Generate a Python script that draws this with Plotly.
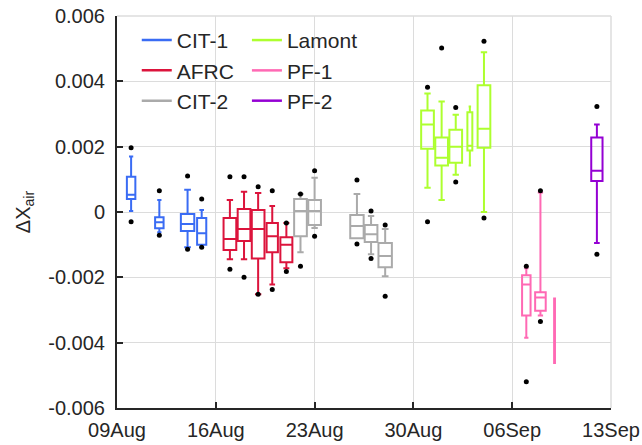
import plotly.graph_objects as go

# ---------------- data ----------------
cit1_dates = ["2019-08-10", "2019-08-12", "2019-08-14", "2019-08-15"]
cit1_q1 = [0.00040, -0.00050, -0.00058, -0.00100]
cit1_med = [0.00053, -0.00031, -0.00037, -0.00065]
cit1_q3 = [0.00108, -0.00016, -0.00006, -0.00018]
cit1_lo = [0.00003, -0.00062, -0.00108, -0.00108]
cit1_hi = [0.00170, 0.00037, 0.00068, 0.00006]
cit1_out_x = ["2019-08-10", "2019-08-10", "2019-08-12", "2019-08-12", "2019-08-14", "2019-08-14", "2019-08-15", "2019-08-15"]
cit1_out_y = [0.00197, -0.00030, 0.00065, -0.00071, 0.00110, -0.00114, 0.00040, -0.00108]
cit1_w = [0.6, 0.6, 0.95, 0.65]

afrc_dates = ["2019-08-17", "2019-08-18", "2019-08-19", "2019-08-20", "2019-08-21"]
afrc_q1 = [-0.00116, -0.00089, -0.00142, -0.00123, -0.00154]
afrc_med = [-0.00083, -0.00052, -0.00052, -0.00074, -0.00100]
afrc_q3 = [-0.00018, 0.00009, 0.00006, -0.00034, -0.00077]
afrc_lo = [-0.00145, -0.00145, -0.00252, -0.00222, -0.00172]
afrc_hi = [0.00037, 0.00062, 0.00058, 0.00018, -0.00034]
afrc_out_x = afrc_dates + afrc_dates
afrc_out_y = [0.00108, 0.00108, 0.00077, 0.00065, -0.00034,
              -0.00175, -0.00200, -0.00252, -0.00237, -0.00182]
afrc_w = [0.9, 0.9, 0.9, 0.8, 0.85]

cit2_dates = ["2019-08-22", "2019-08-23", "2019-08-26", "2019-08-27", "2019-08-28"]
cit2_q1 = [-0.00074, -0.00040, -0.00080, -0.00092, -0.00169]
cit2_med = [0.00003, 0.00003, -0.00043, -0.00068, -0.00135]
cit2_q3 = [0.00040, 0.00037, -0.00009, -0.00040, -0.00095]
cit2_lo = [-0.00123, -0.00049, -0.00080, -0.00129, -0.00197]
cit2_hi = [0.00055, 0.00105, 0.00055, -0.00012, -0.00052]
cit2_out_x = cit2_dates + cit2_dates
cit2_out_y = [0.00055, 0.00126, 0.00098, 0.00003, -0.00040,
              -0.00166, -0.00074, -0.00098, -0.00142, -0.00258]
cit2_w = [0.9, 0.9, 0.95, 0.9, 0.95]

lam_dates = ["2019-08-31", "2019-09-01", "2019-09-02", "2019-09-03", "2019-09-04"]
lam_q1 = [0.00194, 0.00142, 0.00151, 0.00188, 0.00197]
lam_med = [0.00268, 0.00166, 0.00200, 0.00203, 0.00255]
lam_q3 = [0.00311, 0.00228, 0.00252, 0.00305, 0.00388]
lam_lo = [0.00074, 0.00037, 0.00114, 0.00142, 0.00000]
lam_hi = [0.00363, 0.00338, 0.00298, 0.00323, 0.00489]
lam_out_x = ["2019-08-31", "2019-08-31", "2019-09-01", "2019-09-02", "2019-09-02", "2019-09-04", "2019-09-04"]
lam_out_y = [0.00382, -0.00030, 0.00502, 0.00320, 0.00092, 0.00523, -0.00018]
lam_w = [0.9, 0.9, 0.9, 0.35, 0.9]

pf1_dates = ["2019-09-07", "2019-09-08", "2019-09-09"]
pf1_q1 = [-0.00317, -0.00302, -0.00462]
pf1_med = [-0.00222, -0.00262, -0.00360]
pf1_q3 = [-0.00194, -0.00246, -0.00265]
pf1_lo = [-0.00385, -0.00317, -0.00462]
pf1_hi = [-0.00172, 0.00060, -0.00265]
pf1_out_x = ["2019-09-07", "2019-09-07", "2019-09-08", "2019-09-08"]
pf1_out_y = [-0.00166, -0.00520, 0.00065, -0.00335]
pf1_w = [0.6, 0.75, 0.06]

pf2_dates = ["2019-09-12"]
pf2_q1 = [0.00095]
pf2_med = [0.00126]
pf2_q3 = [0.00228]
pf2_lo = [-0.00095]
pf2_hi = [0.00268]
pf2_out_x = ["2019-09-12", "2019-09-12"]
pf2_out_y = [0.00323, -0.00129]
pf2_w = [0.8]

tick_dates = ["2019-08-09", "2019-08-16", "2019-08-23", "2019-08-30", "2019-09-06", "2019-09-13"]
tick_labels = ["09Aug", "16Aug", "23Aug", "30Aug", "06Sep", "13Sep"]
y_ticks = [-0.006, -0.004, -0.002, 0, 0.002, 0.004, 0.006]
y_ticklabels = ["-0.006", "-0.004", "-0.002", "0", "0.002", "0.004", "0.006"]

sites = [
    ("CIT-1", "#3A6CF4", cit1_dates, cit1_q1, cit1_med, cit1_q3, cit1_lo, cit1_hi, cit1_out_x, cit1_out_y, cit1_w, "legend"),
    ("AFRC", "#DC143C", afrc_dates, afrc_q1, afrc_med, afrc_q3, afrc_lo, afrc_hi, afrc_out_x, afrc_out_y, afrc_w, "legend"),
    ("CIT-2", "#AAAAAA", cit2_dates, cit2_q1, cit2_med, cit2_q3, cit2_lo, cit2_hi, cit2_out_x, cit2_out_y, cit2_w, "legend"),
    ("Lamont", "#ADFF2F", lam_dates, lam_q1, lam_med, lam_q3, lam_lo, lam_hi, lam_out_x, lam_out_y, lam_w, "legend2"),
    ("PF-1", "#FF69B4", pf1_dates, pf1_q1, pf1_med, pf1_q3, pf1_lo, pf1_hi, pf1_out_x, pf1_out_y, pf1_w, "legend2"),
    ("PF-2", "#9400D3", pf2_dates, pf2_q1, pf2_med, pf2_q3, pf2_lo, pf2_hi, pf2_out_x, pf2_out_y, pf2_w, "legend2"),
]

DAY = 86400000
fig = go.Figure()
for name, col, d, q1, med, q3, lo, hi, ox, oy, w, leg in sites:
    for i in range(len(d)):
        fig.add_trace(go.Box(
            x=[d[i]], q1=[q1[i]], median=[med[i]], q3=[q3[i]],
            lowerfence=[lo[i]], upperfence=[hi[i]],
            width=w[i] * DAY, whiskerwidth=0.5,
            line=dict(color=col, width=2), fillcolor="rgba(0,0,0,0)",
            boxpoints=False, showlegend=False, hoverinfo="skip"))
for name, col, d, q1, med, q3, lo, hi, ox, oy, w, leg in sites:
    fig.add_trace(go.Scatter(x=ox, y=oy, mode="markers",
                             marker=dict(color="black", size=5),
                             showlegend=False, hoverinfo="skip"))
for name, col, d, q1, med, q3, lo, hi, ox, oy, w, leg in sites:
    fig.add_trace(go.Scatter(x=[None], y=[None], mode="lines", name=name,
                             line=dict(color=col, width=2.5), legend=leg))

txt = "#262626"
grid = "#DCDCDC"
fig.update_layout(
    width=642, height=445,
    margin=dict(l=117, r=31, t=16, b=37),
    paper_bgcolor="white", plot_bgcolor="white",
    font=dict(family="Liberation Sans, Arial, sans-serif", size=20, color=txt),
    boxmode="overlay",
    legend=dict(x=0.04, y=0.99, xanchor="left", yanchor="top",
                bgcolor="rgba(0,0,0,0)", font=dict(size=21), tracegroupgap=0),
    legend2=dict(x=0.263, y=0.99, xanchor="left", yanchor="top",
                 bgcolor="rgba(0,0,0,0)", font=dict(size=21), tracegroupgap=0),
    xaxis=dict(type="date", range=[tick_dates[0], tick_dates[-1]],
               tickvals=tick_dates, ticktext=tick_labels,
               showgrid=True, gridcolor=grid, gridwidth=1,
               showline=True, linecolor=txt, linewidth=2,
               ticks="inside", ticklen=6, tickwidth=2, tickcolor=txt,
               zeroline=False, tickfont=dict(size=20, color=txt),
               ticklabelstandoff=3, automargin=False),
    yaxis=dict(range=[-0.006, 0.006], tickvals=y_ticks, ticktext=y_ticklabels,
               showgrid=True, gridcolor=grid, gridwidth=1,
               showline=True, linecolor=txt, linewidth=2,
               ticks="inside", ticklen=6, tickwidth=2, tickcolor=txt,
               zeroline=False, tickfont=dict(size=20, color=txt),
               ticklabelstandoff=6, automargin=False,
               title=dict(text="ΔX<sub>air</sub>", font=dict(size=20, color=txt), standoff=12)),
    shapes=[
        dict(type="line", xref="paper", yref="paper", x0=0, x1=1, y0=1, y1=1,
             line=dict(color=grid, width=1.5), layer="below"),
        dict(type="line", xref="paper", yref="paper", x0=1, x1=1, y0=0, y1=1,
             line=dict(color=grid, width=1.5), layer="below"),
    ],
)
fig.write_html("out.html")
